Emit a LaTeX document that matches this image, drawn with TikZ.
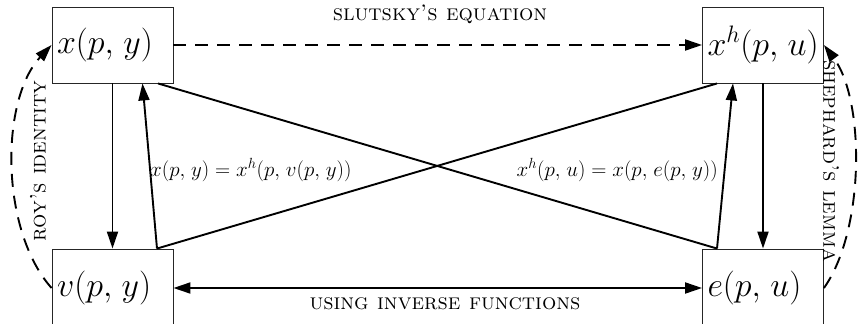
\RequirePackage{fix-cm}
\documentclass[tikz,border=0pt]{standalone}
\usetikzlibrary{arrows.meta,calc}
\newcommand{\pcm}{,\mskip 2mu}
\begin{document}
\begin{tikzpicture}[x=1pt,y=-1pt,
 fbox/.style={draw=black!85,line width=0.9pt,minimum width=121pt,minimum height=76pt,inner xsep=5pt,text width=111pt,align=left,font=\fontsize{34}{38}\selectfont},
 conn/.style={line width=1.9pt,-{Triangle[length=17pt,width=11pt]}},
 dconn/.style={line width=1.9pt,{Triangle[length=17pt,width=11pt]}-{Triangle[length=17pt,width=11pt]}},
 plainline/.style={line width=1.9pt},
 lab/.style={font=\fontsize{22.5}{26}\selectfont\scshape,inner sep=0pt},
 eqlab/.style={font=\fontsize{21}{24}\selectfont,inner sep=0pt},
 dsh/.style={dash pattern=on 13pt off 9pt}]
\useasboundingbox (0,0) rectangle (865,324);
\fill[white] (0,0) rectangle (865,324);
\node[fbox] (X) at (112.5,45) {$x(p\pcm y)$};
\node[fbox] (XH) at (763,45) {$x^h(p\pcm u)$};
\node[fbox,minimum height=78pt] (V) at (112.5,288) {$v(p\pcm y)$};
\node[fbox,minimum height=78pt] (E) at (763,288) {$e(p\pcm u)$};
% top and bottom connectors
\draw[conn,dsh] (X.east) -- (XH.west);
\draw[dconn] (V.east) -- (E.west);
% verticals
\draw[conn] (X.south) -- (V.north);
\draw[conn] ([xshift=44.5pt]V.north) -- ([xshift=30pt]X.south);
\draw[conn] (XH.south) -- (E.north);
\draw[conn] ([xshift=-46pt]E.north) -- ([xshift=-30pt]XH.south);
% diagonals
\draw[plainline] ([xshift=45.5pt]X.south) -- ([xshift=-46pt]E.north);
\draw[plainline] ([xshift=44.5pt]V.north) -- ([xshift=-46pt]XH.south);
% curved dashed arrows
\draw[conn,dsh] (V.west) .. controls (0,230) and (0,100) .. (X.west);
\draw[conn,dsh] (E.east) .. controls (865,230) and (865,100) .. (XH.east);
% labels
\node[lab] (slutsky) at (440,14) {slutsky's equation};
\node[lab] (inverse) at (445,304) {using inverse functions};
\node[lab,rotate=90] (roy) at (38,161) {roy's identity};
\node[lab,rotate=-90] (shep) at (831,161) {shephard's lemma};
\node[eqlab,anchor=west] (eq1) at (150,170) {$x(p\pcm y)=x^h(p\pcm v(p\pcm y))$};
\node[eqlab,anchor=east] (eq2) at (718,170) {$x^h(p\pcm u)=x(p\pcm e(p\pcm y))$};
\end{tikzpicture}
\end{document}
